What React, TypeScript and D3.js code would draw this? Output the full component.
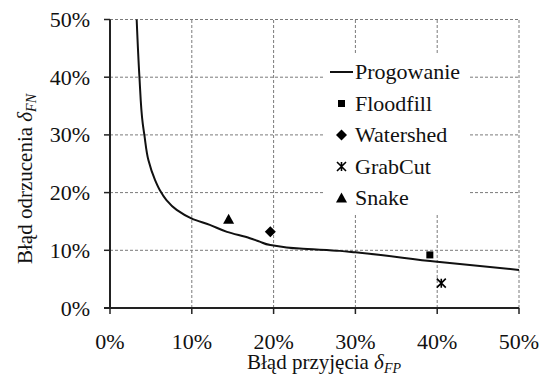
import React, { useEffect, useRef } from 'react';
import * as d3 from 'd3';

// curve "Progowanie" (x = błąd przyjęcia %, y = błąd odrzucenia %)
const curveX = [3.26, 3.6, 4.0, 4.2, 4.7, 5.5, 6.1, 6.9, 8.15, 10, 12.2, 14.3, 17.1, 18.3, 19.6, 21.6, 23.2, 28.1, 30, 40, 50];
const curveY = [50, 40, 32, 30, 25.6, 22.2, 20.4, 18.7, 17, 15.5, 14.4, 13.2, 12.1, 11.5, 10.9, 10.5, 10.3, 9.9, 9.65, 8.0, 6.6];

// single methods
const methodNames = ['Floodfill', 'Watershed', 'GrabCut', 'Snake'];
const methodX = [39.1, 19.6, 40.5, 14.5];
const methodY = [9.2, 13.2, 4.3, 15.4];
const methodSymbols = ['square', 'diamond', 'asterisk', 'triangle'];

const xTicks = [0, 10, 20, 30, 40, 50];
const yTicks = [0, 10, 20, 30, 40, 50];

const W = 543;
const H = 381;
const FONT = 'Liberation Serif, Times New Roman, serif';

function drawMarker(g: any, kind: string, cx: number, cy: number) {
    if (kind === 'square') {
        g.append('rect').attr('x', cx - 3.5).attr('y', cy - 3.5).attr('width', 7).attr('height', 7).attr('fill', '#000');
    } else if (kind === 'diamond') {
        g.append('path').attr('d', `M${cx},${cy - 5.5}L${cx + 5.5},${cy}L${cx},${cy + 5.5}L${cx - 5.5},${cy}Z`).attr('fill', '#000');
    } else if (kind === 'triangle') {
        g.append('path').attr('d', `M${cx},${cy - 5.5}L${cx + 5.5},${cy + 4.5}L${cx - 5.5},${cy + 4.5}Z`).attr('fill', '#000');
    } else {
        const r = 4.5;
        g.append('path')
            .attr('d', `M${cx - r},${cy - r}L${cx + r},${cy + r}M${cx - r},${cy + r}L${cx + r},${cy - r}M${cx},${cy - r}L${cx},${cy + r}`)
            .attr('stroke', '#000').attr('stroke-width', 1.6).attr('fill', 'none');
    }
}

// plain label, text kept in a tspan
function label(g: any, x: number, y: number, s: string, anchor: string, size: number) {
    const t = g.append('text').attr('x', x).attr('y', y).attr('text-anchor', anchor)
        .attr('font-family', FONT).attr('font-size', size).attr('fill', '#111');
    t.append('tspan').text(s);
    return t;
}

export default function App() {
    const ref = useRef<SVGSVGElement>(null);

    useEffect(() => {
        const svg = d3.select(ref.current);
        svg.selectAll('*').remove();
        svg.attr('font-family', FONT);

        const x = d3.scaleLinear().domain([0, 50]).range([110, 519]);
        const y = d3.scaleLinear().domain([0, 50]).range([308, 19.5]);

        // grid
        const grid = svg.append('g').attr('stroke', '#7a7a7a').attr('stroke-width', 1).attr('stroke-dasharray', '3,2');
        xTicks.filter(t => t > 0).forEach(t => {
            grid.append('line').attr('x1', x(t)).attr('x2', x(t)).attr('y1', y(0)).attr('y2', y(50));
        });
        yTicks.filter(t => t > 0).forEach(t => {
            grid.append('line').attr('x1', x(0)).attr('x2', x(50)).attr('y1', y(t)).attr('y2', y(t));
        });

        // axes
        const axisColor = '#222';
        svg.append('line').attr('x1', x(0)).attr('x2', x(0)).attr('y1', y(0)).attr('y2', y(50))
            .attr('stroke', axisColor).attr('stroke-width', 2);
        svg.append('line').attr('x1', x(0) - 6).attr('x2', x(50)).attr('y1', y(0)).attr('y2', y(0))
            .attr('stroke', axisColor).attr('stroke-width', 2);
        yTicks.forEach(t => {
            svg.append('line').attr('x1', x(0) - 6).attr('x2', x(0)).attr('y1', y(t)).attr('y2', y(t))
                .attr('stroke', axisColor).attr('stroke-width', 1.5);
            label(svg, 90, y(t) + 7.5, t + '%', 'end', 22);
        });
        xTicks.forEach(t => {
            svg.append('line').attr('x1', x(t)).attr('x2', x(t)).attr('y1', y(0)).attr('y2', y(0) + 6)
                .attr('stroke', axisColor).attr('stroke-width', 1.5);
            label(svg, x(t), 349, t + '%', 'middle', 22);
        });

        // curve
        const pts: [number, number][] = curveX.map((v, i) => [v, curveY[i]]);
        const line = d3.line<[number, number]>().x(d => x(d[0])).y(d => y(d[1])).curve(d3.curveMonotoneY);
        svg.append('path').attr('d', line(pts)).attr('fill', 'none').attr('stroke', '#111').attr('stroke-width', 2);

        // legend box (white, hides grid)
        svg.append('rect').attr('x', 325).attr('y', 55).attr('width', 144).attr('height', 158).attr('fill', '#fff');

        // method markers
        methodNames.forEach((_, i) => drawMarker(svg, methodSymbols[i], x(methodX[i]), y(methodY[i])));

        // legend
        const ly = [72, 103.5, 135, 166.5, 198];
        svg.append('line').attr('x1', 330).attr('x2', 353).attr('y1', ly[0]).attr('y2', ly[0])
            .attr('stroke', '#111').attr('stroke-width', 2);
        label(svg, 355, ly[0] + 7, 'Progowanie', 'start', 22);
        methodNames.forEach((name, i) => {
            drawMarker(svg, methodSymbols[i], 341.5, ly[i + 1]);
            label(svg, 355, ly[i + 1] + 7, name, 'start', 22);
        });

        // axis titles
        const xt = svg.append('text').attr('x', 324).attr('y', 369).attr('text-anchor', 'middle')
            .attr('font-family', FONT).attr('font-size', 21).attr('fill', '#111');
        xt.append('tspan').text('Błąd przyjęcia ');
        xt.append('tspan').attr('font-style', 'italic').text('δ');
        xt.append('tspan').attr('font-style', 'italic').attr('font-size', 14).attr('dy', 4).text('FP');

        const yt = svg.append('text').attr('transform', 'translate(32,179) rotate(-90)').attr('text-anchor', 'middle')
            .attr('font-family', FONT).attr('font-size', 21).attr('fill', '#111');
        yt.append('tspan').text('Błąd odrzucenia ');
        yt.append('tspan').attr('font-style', 'italic').text('δ');
        yt.append('tspan').attr('font-style', 'italic').attr('font-size', 14).attr('dy', 4).text('FN');
    }, []);

    return (
        <div style={{ position: 'absolute', left: 0, top: 0 }}>
            <svg ref={ref} width={W} height={H} style={{ display: 'block', background: '#fff' }} />
        </div>
    );
}
